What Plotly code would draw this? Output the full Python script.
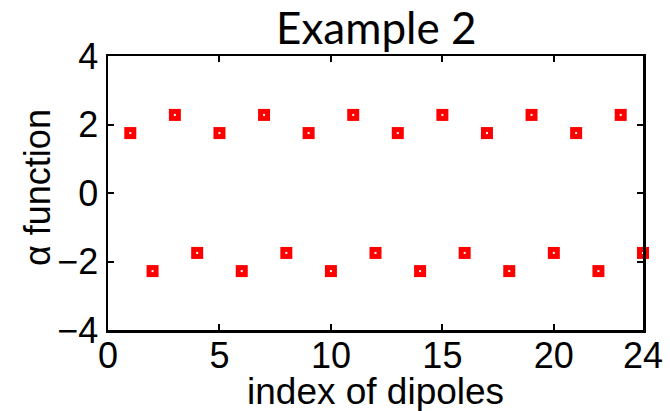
import plotly.graph_objects as go

dipole_index = list(range(1, 25))
alpha_values = [1.75, -2.28, 2.28, -1.75] * 6
x_tick_vals = [0, 5, 10, 15, 20, 24]
y_tick_vals = [-4, -2, 0, 2, 4]

W, H = 670, 411
L, R, T, B = 108, 27, 56, 81
pw, ph = W - L - R, H - T - B

font_main = "Liberation Sans Narrow, Liberation Sans, Arial Narrow, sans-serif"

fig = go.Figure()
fig.add_trace(go.Scatter(
    x=dipole_index, y=alpha_values, mode="markers",
    marker=dict(symbol="square", size=12, color="#ff0000", line=dict(width=0)),
    cliponaxis=False, showlegend=False, hoverinfo="skip"))
fig.add_trace(go.Scatter(
    x=dipole_index, y=alpha_values, mode="markers",
    marker=dict(symbol="square", size=2, color="#ffffff", line=dict(width=0)),
    cliponaxis=False, showlegend=False, hoverinfo="skip"))

axis_common = dict(
    showgrid=False, zeroline=False, showline=True, linecolor="black", linewidth=2.5,
    mirror="ticks", ticks="inside", ticklen=6, tickwidth=2, tickcolor="black",
    tickfont=dict(family=font_main, size=36, color="black"), automargin=False,
)
fig.update_xaxes(range=[0, 24], tickvals=x_tick_vals, ticktext=[str(v) for v in x_tick_vals],
                 ticklabelstandoff=-8, **axis_common)
fig.update_yaxes(range=[-4, 4], tickvals=y_tick_vals,
                 ticktext=["\u2212" + str(-v) if v < 0 else str(v) for v in y_tick_vals], **axis_common)

fig.add_annotation(text="Example 2", xref="paper", yref="paper", x=0.5, y=1 + (56 - 27) / ph,
                   showarrow=False, xanchor="center", yanchor="middle",
                   font=dict(family="Lato, Carlito, sans-serif", size=44, color="black"))
fig.add_annotation(text="index of dipoles", xref="paper", yref="paper", x=0.5, y=-(391 - (T + ph)) / ph,
                   showarrow=False, xanchor="center", yanchor="middle",
                   font=dict(family=font_main, size=37, color="black"))
fig.add_annotation(text="\u03b1 function", xref="paper", yref="paper", x=(37 - L) / pw, y=(T + ph - 188) / ph,
                   showarrow=False, xanchor="center", yanchor="middle", textangle=-90,
                   font=dict(family=font_main, size=36, color="black"))

fig.update_layout(width=W, height=H, margin=dict(l=L, r=R, t=T, b=B, pad=0, autoexpand=False),
                  paper_bgcolor="white", plot_bgcolor="white")
fig.write_html("out.html", config={"displayModeBar": False, "staticPlot": True},
               post_script="document.body.style.margin='0';document.body.style.overflow='hidden';")
